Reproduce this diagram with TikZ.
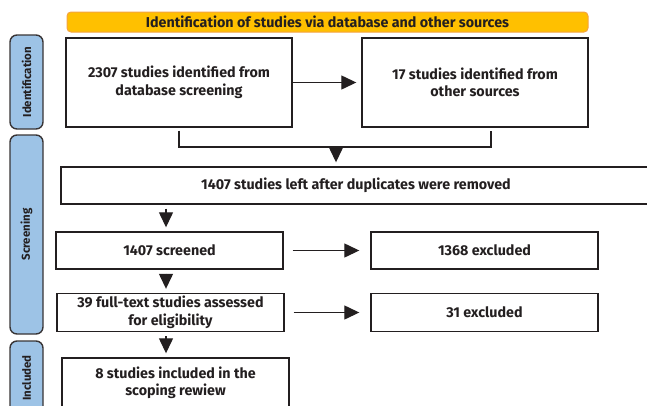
\documentclass[tikz,border=0pt]{standalone}
\usepackage{fontspec}
\setmainfont{Fira Sans}
\usetikzlibrary{arrows.meta}

\definecolor{ink}{HTML}{231F20}
\definecolor{hdrfill}{HTML}{FFC000}
\definecolor{hdrline}{HTML}{F4A340}
\definecolor{sidefill}{HTML}{9DC3E6}

\tikzset{
  every node/.style={text=ink,font=\bfseries\fontsize{14.3}{17.5}\selectfont,align=center},
  box/.style={draw=ink,line width=1.4pt,fill=white,inner sep=0pt},
  hdr/.style={draw=hdrline,fill=hdrfill,line width=1pt,rounded corners=4pt,inner sep=0pt},
  side/.style={draw=ink!90,fill=sidefill,line width=1.4pt,rounded corners=7pt,
    minimum width=33pt,inner sep=0pt,font=\bfseries\fontsize{11.5}{12}\selectfont},
  arr/.style={draw=ink,line width=1.3pt,-{Triangle[length=15pt,width=14pt]}},
  line/.style={draw=ink,line width=1.3pt}
}

\begin{document}
\begin{tikzpicture}[x=1pt,y=-1pt]
      \useasboundingbox (0,0) rectangle (647,405);

      % stage labels on the left
      \node [side,minimum height=94pt] (sid) at (26.5,82) {\rotatebox{90}{Identification}};
      \node [side,minimum height=199pt] (sscr) at (26.5,234.5) {\rotatebox{90}{Screening}};
      \node [side,minimum height=74pt] (sinc) at (26.5,378) {\rotatebox{90}{Included}};

      \node [hdr,minimum width=521pt,minimum height=20pt] (title) at (327.5,22) {Identification of studies via database and other sources};

      \node [box,minimum width=226pt,minimum height=89pt] (db) at (179,82.5) {2307 studies identified from\\database screening};
      \node [box,minimum width=226pt,minimum height=89pt] (other) at (475,82.5) {17 studies identified from\\other sources};
      \node [box,minimum width=590pt,minimum height=37pt] (dedup) at (356,185.5) {1407 studies left after duplicates were removed};
      \node [box,minimum width=227pt,minimum height=37pt] (scr) at (169.5,250.5) {1407 screened};
      \node [box,minimum width=227pt,minimum height=37pt] (exc1) at (484.5,250.5) {1368 excluded};
      \node [box,minimum width=227pt,minimum height=38pt] (full) at (170.5,312.5) {39 full-text studies assessed\\for eligibility};
      \node [box,minimum width=227pt,minimum height=38pt] (exc2) at (484.5,312.5) {31 excluded};
      \node [box,minimum width=227pt,minimum height=50pt] (incl) at (175.5,383) {8 studies included in the\\scoping rewiew};

      \coordinate (join) at (336,147);
      \coordinate (spine) at (166,0);

      \draw [arr,shorten >=5pt] (db) -- (other);
      \draw [line] ([yshift=-3pt]db.south) |- (join) -| ([xshift=16pt,yshift=-3pt]other.south);
      \draw [arr,shorten >=4pt] (join) -- (join |- dedup.north);

      \foreach \from/\to in {scr/exc1,full/exc2}
        \draw [arr,shorten <=9pt,shorten >=11pt] (\from) -- (\to);
      \foreach \from/\to in {dedup/scr,scr/full,full/incl}
        \draw [arr,shorten <=4pt,shorten >=4pt] (\from.south -| spine) -- (\to.north -| spine);
    \end{tikzpicture}
\end{document}
